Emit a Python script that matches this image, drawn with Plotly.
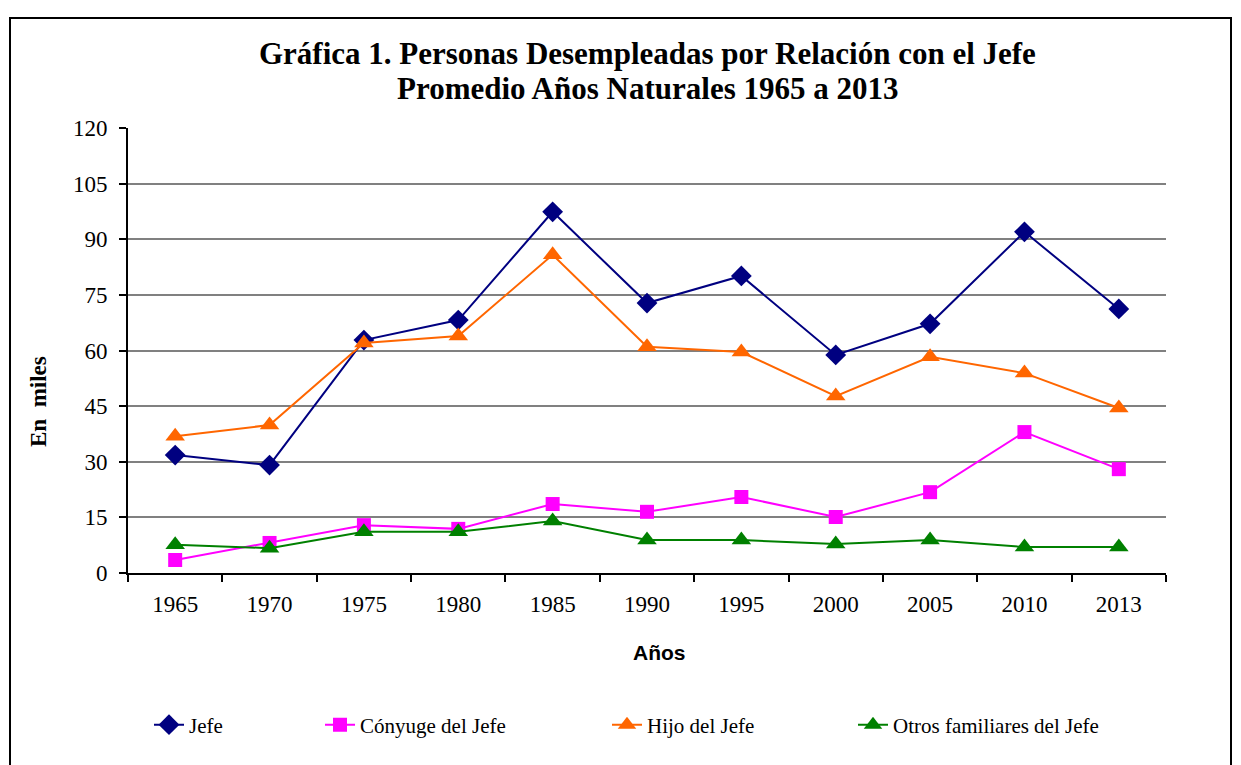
import plotly.graph_objects as go

years = ["1965", "1970", "1975", "1980", "1985", "1990", "1995", "2000", "2005", "2010", "2013"]
jefe = [31.8, 29.1, 62.8, 68.2, 97.4, 72.8, 80.1, 58.8, 67.2, 92.0, 71.2]
conyuge = [3.5, 8.1, 12.9, 11.9, 18.6, 16.5, 20.5, 15.1, 21.8, 38.0, 28.0]
hijo = [36.9, 39.9, 62.0, 63.9, 85.8, 61.0, 59.6, 47.7, 58.3, 53.9, 44.5]
otros = [7.6, 6.7, 11.1, 11.1, 14.0, 8.9, 8.9, 7.8, 8.9, 7.0, 7.0]
yticks = [0, 15, 30, 45, 60, 75, 90, 105, 120]
title_lines = ["Gráfica 1. Personas Desempleadas por Relación con el Jefe",
               "Promedio Años Naturales 1965 a 2013"]

# page body has an 8px margin; work in screen coordinates
O = 8
W, H = 1241 - O, 765 - O
L, R, T, B = 128 - O, 1241 - 1166, 128 - O, 765 - 573
pw, ph = W - L - R, H - T - B

def px(xs):
    return (xs - O - L) / pw

def py(ys):
    return (H - B - (ys - O)) / ph

serif = "Liberation Serif, Times New Roman, serif"

series = [
    ("Jefe", jefe, "#000080", "diamond", 16, "legend"),
    ("Cónyuge del Jefe", conyuge, "#FF00FF", "square", 14, "legend2"),
    ("Hijo del Jefe", hijo, "#FF6600", "triangle-up", 17, "legend3"),
    ("Otros familiares del Jefe", otros, "#008000", "triangle-up", 17, "legend4"),
]

fig = go.Figure()
for name, vals, col, sym, sz, lg in series:
    fig.add_trace(go.Scatter(
        x=years, y=vals, name=name, mode="lines+markers",
        line=dict(color=col, width=2),
        marker=dict(symbol=sym, size=sz, color=col),
        legend=lg,
    ))

legend_text_x = [189, 360, 647, 893]
common_leg = dict(orientation="h", yanchor="middle", xanchor="left",
                  font=dict(family=serif, size=21, color="black"),
                  bgcolor="rgba(0,0,0,0)", itemwidth=30)
layout_legs = {}
for i, xt in enumerate(legend_text_x):
    key = "legend" if i == 0 else f"legend{i+1}"
    layout_legs[key] = dict(common_leg, x=px(xt - 40), y=py(725))

fig.update_layout(
    width=W, height=H,
    margin=dict(l=L, r=R, t=T, b=B),
    paper_bgcolor="white", plot_bgcolor="white",
    showlegend=True,
    xaxis=dict(
        type="category", range=[-0.5, 10.5],
        tickson="boundaries", ticks="outside", ticklen=7, tickwidth=2, tickcolor="black",
        showline=True, linecolor="black", linewidth=2,
        showgrid=False, zeroline=False, ticklabelstandoff=9,
        tickfont=dict(family=serif, size=23, color="black"),
    ),
    yaxis=dict(
        range=[0, 120], tickvals=yticks,
        ticks="outside", ticklen=7, tickwidth=2, tickcolor="black",
        showline=True, linecolor="black", linewidth=2,
        showgrid=True, gridcolor="#808080", gridwidth=2,
        zeroline=False, ticklabelstandoff=7,
        tickfont=dict(family=serif, size=23, color="black"),
    ),
    **layout_legs,
)

# titles
for txt, ys in zip(title_lines, [53, 88]):
    fig.add_annotation(text=f"<b>{txt}</b>", xref="paper", yref="paper",
                       x=px(647), y=py(ys), xanchor="center", yanchor="middle",
                       showarrow=False, font=dict(family=serif, size=31, color="black"))
fig.add_annotation(text="<b>Años</b>", xref="paper", yref="paper",
                   x=px(659), y=py(652), xanchor="center", yanchor="middle",
                   showarrow=False, font=dict(family="Liberation Sans, Arial, sans-serif", size=21, color="black"))
fig.add_annotation(text="<b>En  miles</b>", xref="paper", yref="paper",
                   x=px(38), y=py(402), xanchor="center", yanchor="middle", textangle=-90,
                   showarrow=False, font=dict(family=serif, size=23, color="black"))

fig.add_shape(type="rect", xref="paper", yref="paper",
              x0=px(10), x1=px(1231), y0=py(790), y1=py(18),
              line=dict(color="black", width=2), fillcolor="rgba(0,0,0,0)", layer="below")

fig.write_html("out.html")
